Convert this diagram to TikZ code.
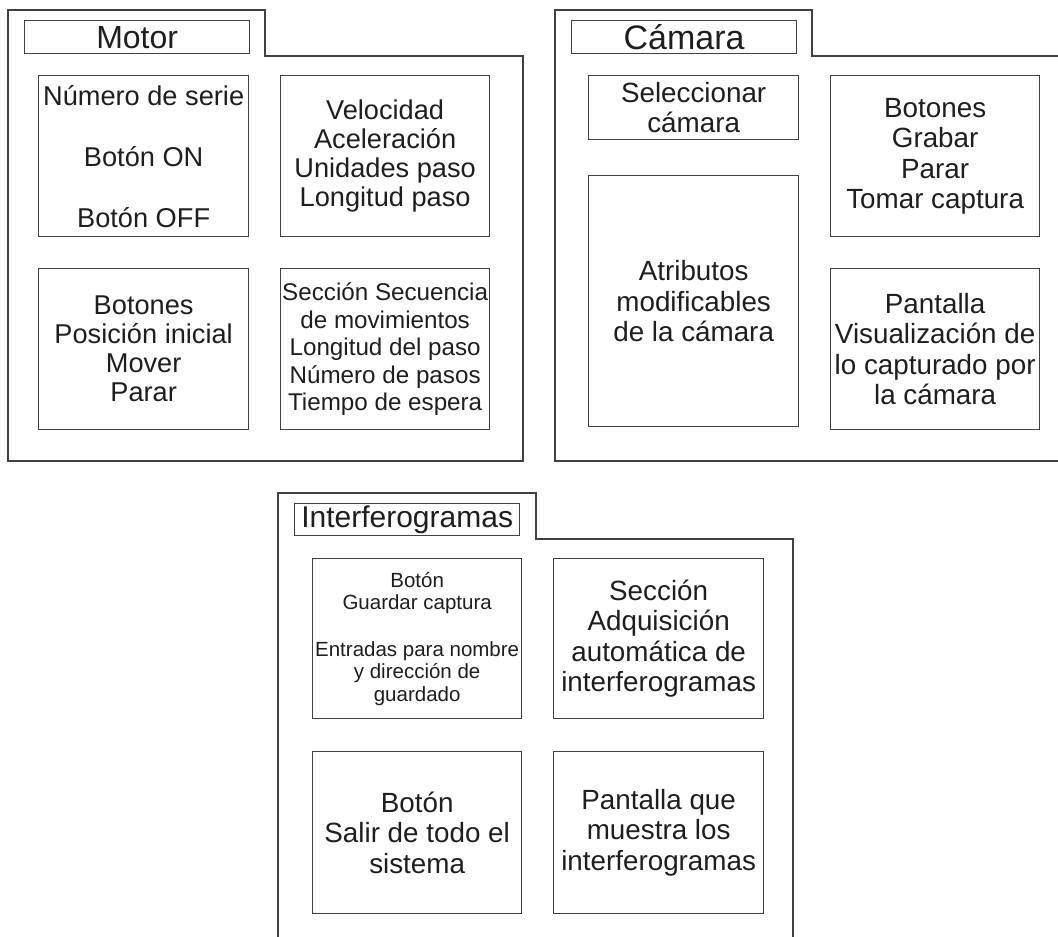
\documentclass[tikz,border=0pt]{standalone}
\usepackage{fontspec}
\setmainfont{Liberation Sans}
\definecolor{linegray}{RGB}{64,64,64}
\definecolor{inkgray}{RGB}{30,30,30}
\begin{document}
\begin{tikzpicture}[x=1pt,y=-1pt,
  frame/.style={draw=linegray, line width=1.3pt, line join=miter},
  box/.style={draw=linegray, line width=1.3pt, align=center, inner sep=0pt,
    text=inkgray, anchor=north west},
  titlebox/.style={box, minimum width=225, minimum height=33},
  fsTitle/.style={font=\fontsize{#1}{#1}\selectfont},
  fsBig/.style={font=\fontsize{27.8}{30.5}\selectfont},
  fsMid/.style={font=\fontsize{27.2}{29}\selectfont},
  fsSeq/.style={font=\fontsize{24.2}{27.5}\selectfont},
  fsSmall/.style={font=\fontsize{20.5}{22.5}\selectfont}
]
\useasboundingbox (0,0) rectangle (1058,937);
\clip (0,0) rectangle (1058,937);

% ---- Motor panel ----
\draw[frame] (8,461) -- (8,10) -- (265,10) -- (265,56) -- (523,56) -- (523,461) -- cycle;
\node[titlebox, fsTitle=32] (tmotor) at (24,20) {Motor};
\node[box, fsMid, minimum width=210, minimum height=161] (m1) at (38,75)
  {Número de serie\\[32pt]Botón ON\\[32pt]Botón OFF};
\node[box, fsMid, minimum width=209, minimum height=161] (m2) at (280,75)
  {Velocidad\\Aceleración\\Unidades paso\\Longitud paso};
\node[box, fsMid, minimum width=210, minimum height=161] (m3) at (38,268)
  {Botones\\Posición inicial\\Mover\\Parar};
\node[box, fsSeq, minimum width=209, minimum height=161] (m4) at (280,268)
  {Sección Secuencia\\de movimientos\\Longitud del paso\\Número de pasos\\Tiempo de espera};

% ---- Cámara panel ----
\draw[frame] (1070,461) -- (555,461) -- (555,10) -- (812,10) -- (812,56) -- (1070,56);
\node[titlebox, fsTitle=34] (tcam) at (571,20) {Cámara};
\node[box, fsBig, minimum width=210, minimum height=64] (c1) at (588,75)
  {Seleccionar\\cámara};
\node[box, fsBig, minimum width=210, minimum height=251] (c2) at (588,175)
  {Atributos\\modificables\\de la cámara};
\node[box, fsBig, minimum width=209, minimum height=161] (c3) at (830,75)
  {Botones\\Grabar\\Parar\\Tomar captura};
\node[box, fsBig, minimum width=209, minimum height=161] (c4) at (830,268)
  {Pantalla\\Visualización de\\lo capturado por\\la cámara};

% ---- Interferogramas panel ----
\draw[frame] (278,950) -- (278,493) -- (536,493) -- (536,539) -- (793,539) -- (793,950);
\node[titlebox, fsTitle=30, minimum height=32] (tint) at (294,503) {Interferogramas};
\node[box, fsSmall, minimum width=209, minimum height=160] (i1) at (312,558)
  {Botón\\Guardar captura\\[24pt]Entradas para nombre\\y dirección de\\guardado};
\node[box, fsBig, minimum width=210, minimum height=160] (i2) at (553,558)
  {Sección\\Adquisición\\automática de\\interferogramas};
\node[box, fsBig, minimum width=209, minimum height=162] (i3) at (312,751)
  {Botón\\Salir de todo el\\sistema};
\node[box, fsBig, minimum width=210, minimum height=162] (i4) at (553,751)
  {Pantalla que\\muestra los\\interferogramas};
\end{tikzpicture}
\end{document}
